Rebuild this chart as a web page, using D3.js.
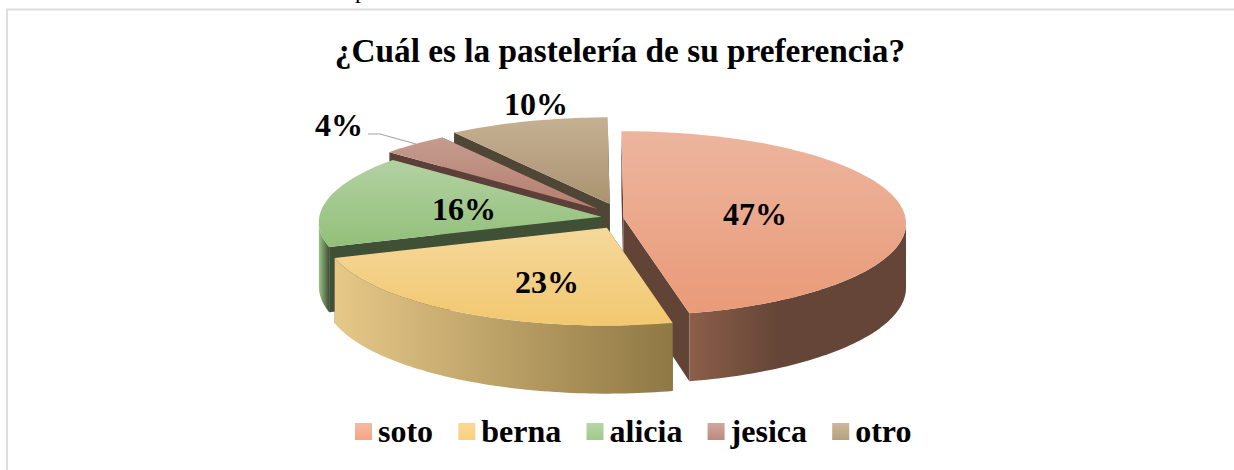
<!DOCTYPE html>
<html>
<head>
<meta charset="utf-8">
<script src="https://cdn.jsdelivr.net/npm/d3@7"></script>
<style>
  html, body { margin: 0; padding: 0; background: #fff; }
  text { font-family: "Liberation Serif", serif; font-weight: bold; fill: #000; }
</style>
</head>
<body>
<div id="chart"></div>
<script>
const titleText = "¿Cuál es la pastelería de su preferencia?";
const categories = ["soto", "berna", "alicia", "jesica", "otro"];
const values = [46.6, 23.3, 16.3, 4.1, 9.7];

// colours per slice: top surface (top, bottom), side wall, outer wall (left, right)
const topLight = ["#ecb59e", "#f5d89b", "#b3d1a2", "#c49c8f", "#c5b093"];
const topDark = ["#ea9a78", "#f2c86f", "#92c07a", "#b57e6f", "#a99370"];
const wallColors = ["#624436", "#5c4a2c", "#3f5036", "#5b3f38", "#4f4636"];
const outerLeft = ["#8c5e49", "#e6c888", "#9cc586", "#5b3f38", "#4f4636"];
const outerRight = ["#644537", "#8f7844", "#3f5036", "#5b3f38", "#4f4636"];
const legendLight = ["#f5bba6", "#fbd892", "#b6d6a7", "#d0a89d", "#ceb89b"];
const legendDark = ["#f4a582", "#fad07e", "#a0c98a", "#bc8a7d", "#b79f7c"];

// layout
const width = 1234, height = 470;
const center = { x: 623.5, y: 218 };
const rx = 282, ry = 92, depth = 64, persp = 0.06, rotation = -0.008;
const explode = [0.0, 0.12, 0.08, 0.135, 0.16];
const drawOrder = [4, 3, 2, 0, 1];
const labelPos = [[755, 225], [547, 293], [464, 220], [339, 136], [536, 115]];

const svg = d3.select("#chart").append("svg")
  .attr("width", width)
  .attr("height", height);

const defs = svg.append("defs");

// frame of the embedded chart + bit of the page text above it
svg.append("path")
  .attr("d", "M7 470V9.5H1234")
  .attr("fill", "none")
  .attr("stroke", "#dedede")
  .attr("stroke-width", 2);

svg.append("text")
  .text("p")
  .attr("x", 355)
  .attr("y", -2)
  .style("font-weight", "normal")
  .style("font-size", "24px");

svg.append("text")
  .text(titleText)
  .attr("x", 620)
  .attr("y", 62)
  .attr("text-anchor", "middle")
  .style("font-size", "33.3px");

const pie = d3.pie().sort(null).value(d => d)
  .startAngle(rotation).endAngle(2 * Math.PI + rotation);
const arcs = pie(values);

// disc coords -> screen offset from the slice apex, a bit of perspective
function project(a, r) {
  const u = Math.sin(a) * r, v = -Math.cos(a) * r;
  const s = 1 / (1 - persp * v);
  return { x: rx * u * s, y: ry * v * s, s: s, v: v };
}

const line = d3.line().x(d => d[0]).y(d => d[1]);

function sampleAngles(a0, a1) {
  const n = Math.max(2, Math.ceil((a1 - a0) / 0.02));
  return d3.range(n + 1).map(i => a0 + (a1 - a0) * i / n);
}

drawOrder.forEach(i => {
  const d = arcs[i];
  const mid = (d.startAngle + d.endAngle) / 2;
  const off = project(mid, explode[i]);
  const ax = center.x + off.x, ay = center.y + off.y;
  const angles = sampleAngles(d.startAngle, d.endAngle);
  const rim = angles.map(a => project(a, 1)).map(p => ({ x: ax + p.x, y: ay + p.y, s: p.s, v: p.v }));

  const topId = "top" + i, outerId = "outer" + i;
  const yExt = d3.extent(rim, p => p.y);
  const topGrad = defs.append("linearGradient").attr("id", topId)
    .attr("gradientUnits", "userSpaceOnUse")
    .attr("x1", 0).attr("x2", 0)
    .attr("y1", Math.min(yExt[0], ay)).attr("y2", Math.max(yExt[1], ay));
  topGrad.append("stop").attr("offset", 0).attr("stop-color", topLight[i]);
  topGrad.append("stop").attr("offset", 1).attr("stop-color", topDark[i]);

  const front = rim.filter(p => p.v >= persp);
  const g = svg.append("g").attr("class", "slice");

  // flat side walls along the two cut edges
  [rim[0], rim[rim.length - 1]].forEach(p => {
    g.append("path")
      .attr("d", line([[ax, ay], [p.x, p.y], [p.x, p.y + depth * p.s], [ax, ay + depth]]) + "Z")
      .attr("fill", wallColors[i]);
  });

  // curved outer wall, front part only
  if (front.length > 1) {
    const fx = d3.extent(front, p => p.x);
    const span = i === 0 ? [fx[0], fx[0] + 90] : fx;
    const outerGrad = defs.append("linearGradient").attr("id", outerId)
      .attr("gradientUnits", "userSpaceOnUse")
      .attr("x1", span[0]).attr("x2", span[1]).attr("y1", 0).attr("y2", 0);
    outerGrad.append("stop").attr("offset", 0).attr("stop-color", outerLeft[i]);
    outerGrad.append("stop").attr("offset", 1).attr("stop-color", outerRight[i]);
    const upper = front.map(p => [p.x, p.y]);
    const lower = front.map(p => [p.x, p.y + depth * p.s]).reverse();
    g.append("path")
      .attr("d", line(upper.concat(lower)) + "Z")
      .attr("fill", "url(#" + outerId + ")");
  }

  // top surface
  g.append("path")
    .attr("d", line([[ax, ay]].concat(rim.map(p => [p.x, p.y]))) + "Z")
    .attr("fill", "url(#" + topId + ")");
});

// leader line of the small slice
svg.append("path")
  .attr("d", line([[368, 134], [380, 134], [416, 144]]))
  .attr("fill", "none")
  .attr("stroke", "#a6a6a6")
  .attr("stroke-width", 1.2);

// data labels
const labels = arcs.map(d => Math.round(d.data) + "%");
svg.append("g").selectAll("text")
  .data(labels)
  .join("text")
  .text(d => d)
  .attr("x", (d, i) => labelPos[i][0])
  .attr("y", (d, i) => labelPos[i][1])
  .attr("text-anchor", "middle")
  .style("font-size", "32px");

// legend, laid out from the text widths
let legendX = 355;
const legend = svg.append("g").attr("id", "legend");
categories.forEach((name, i) => {
  const gradId = "leg" + i;
  const grad = defs.append("linearGradient").attr("id", gradId)
    .attr("x1", 0).attr("x2", 0).attr("y1", 0).attr("y2", 1);
  grad.append("stop").attr("offset", 0).attr("stop-color", legendLight[i]);
  grad.append("stop").attr("offset", 1).attr("stop-color", legendDark[i]);
  legend.append("rect")
    .attr("x", legendX).attr("y", 423)
    .attr("width", 17).attr("height", 17)
    .attr("fill", "url(#" + gradId + ")");
  const t = legend.append("text")
    .text(name)
    .attr("x", legendX + 23)
    .attr("y", 442)
    .style("font-size", "32px");
  legendX += 23 + t.node().getComputedTextLength() + 25.2;
});
</script>
</body>
</html>
